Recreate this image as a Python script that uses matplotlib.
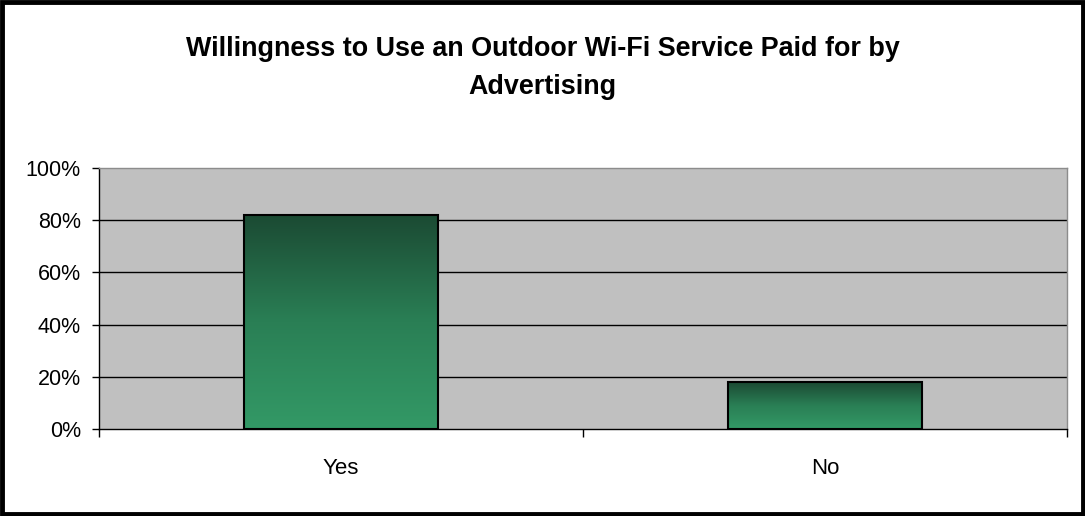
import numpy as np
import matplotlib
matplotlib.use("Agg")
import matplotlib.pyplot as plt
from matplotlib.colors import LinearSegmentedColormap
from matplotlib.patches import Rectangle

categories = ["Yes", "No"]
values = [82, 18]
yticks = [0, 20, 40, 60, 80, 100]
ytick_labels = ["0%", "20%", "40%", "60%", "80%", "100%"]
title = "Willingness to Use an Outdoor Wi-Fi Service Paid for by\nAdvertising"

plt.rcParams['font.family'] = ['Liberation Sans', 'DejaVu Sans']

fig = plt.figure(figsize=(10.85, 5.16), dpi=100)
W, H = 1085, 516
ax = fig.add_axes([99 / W, 1 - 429 / H, (1067 - 99) / W, (429 - 168) / H])
ax.set_facecolor("#C0C0C0")

x = np.arange(len(categories))
bars = ax.bar(x, values, width=0.4, facecolor="none", edgecolor="black", linewidth=1.5, zorder=3)
cmap = LinearSegmentedColormap.from_list("g", ["#339966", "#2A7F55", "#1B4A33"])
grad = np.linspace(0, 1, 256).reshape(-1, 1)
for b in bars:
    x0, y0 = b.get_x(), b.get_y()
    w, h = b.get_width(), b.get_height()
    im = ax.imshow(grad, cmap=cmap, origin="lower", aspect="auto",
                   extent=[x0, x0 + w, y0, y0 + h], zorder=2)
    im.set_clip_path(b)

ax.set_xlim(-0.5, len(categories) - 0.5)
ax.set_ylim(0, 100)
ax.set_yticks(yticks)
ax.set_yticklabels(ytick_labels, fontsize=15.5)
ax.set_xticks(x)
ax.set_xticklabels(categories, fontsize=16)
ax.tick_params(axis="x", length=0, pad=21)
ax.tick_params(axis="y", length=5, width=1, direction="out", pad=8)
# category boundary ticks
ax.set_xticks(np.arange(-0.5, len(categories)), minor=True)
ax.tick_params(axis="x", which="minor", length=6, width=1, direction="out")

for v in yticks[1:-1]:
    ax.axhline(v, color="black", linewidth=1, zorder=1)

for s in ["top", "right"]:
    ax.spines[s].set_color("#8C8C8C")
    ax.spines[s].set_linewidth(1)
for s in ["left", "bottom"]:
    ax.spines[s].set_color("black")
    ax.spines[s].set_linewidth(1)

fig.text(0.5, 1 - 68 / H, title, ha="center", va="center", fontsize=19.4,
         fontweight="bold", linespacing=1.65)

fig.patches.append(Rectangle((0.002, 0.004), 0.996, 0.993, transform=fig.transFigure,
                             fill=False, edgecolor="black", linewidth=3.5))

fig.savefig("out.png", dpi=100)
